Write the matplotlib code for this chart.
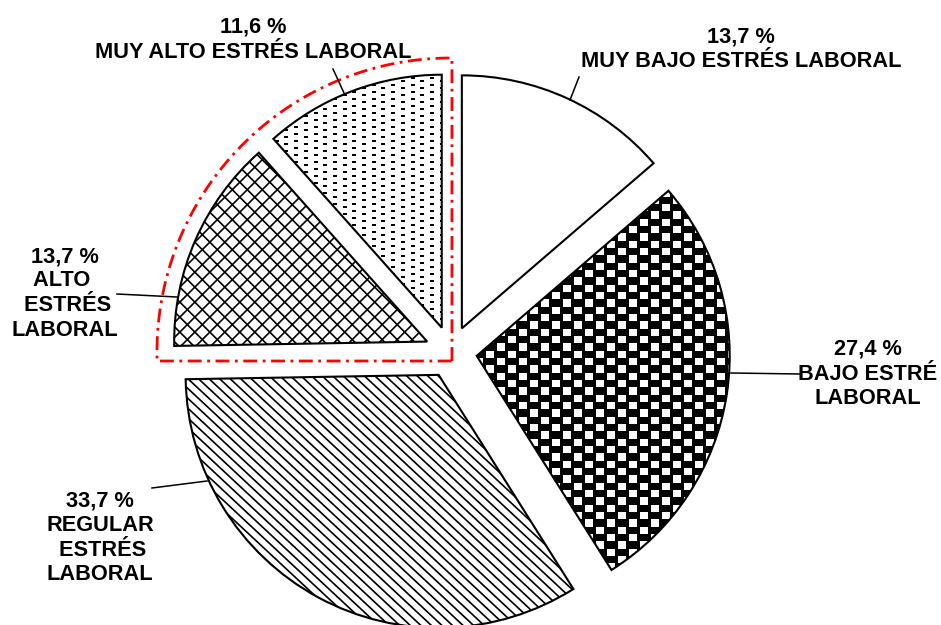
import numpy as np
import matplotlib.pyplot as plt
from matplotlib.collections import LineCollection
from matplotlib.patches import Wedge

# Niveles de estrés laboral (%)
niveles = ["MUY BAJO", "BAJO", "REGULAR", "ALTO", "MUY ALTO"]
porcentajes = [13.7, 27.4, 33.7, 13.7, 11.6]
# cómo se parte cada rótulo en renglones (debajo del porcentaje)
renglones = [
    ["MUY BAJO ESTRÉS LABORAL"],
    ["BAJO ESTRÉ", "LABORAL"],
    ["REGULAR", " ESTRÉS", "LABORAL"],
    ["ALTO ", " ESTRÉS", "LABORAL"],
    ["MUY ALTO ESTRÉS LABORAL"],
]

W, H = 941, 625
CX, CY, R = 451, H - 352, 253

fig = plt.figure(figsize=(W / 100, H / 100), dpi=100)
ax = fig.add_axes([0, 0, 1, 1])

# explode va en unidades de datos (píxeles aquí)
cunas, _ = ax.pie(porcentajes, startangle=90, counterclock=False,
                  center=(CX, CY), radius=R, explode=[26] * 5,
                  wedgeprops=dict(facecolor="white", edgecolor="none"))


def rayado(cuna, angulos, paso, lw):
    cx, cy = cuna.center
    r = cuna.r
    segs = []
    for ang in angulos:
        d = np.array([np.cos(np.radians(ang)), np.sin(np.radians(ang))])
        n = np.array([-d[1], d[0]])
        for k in np.arange(-r - paso, r + paso, paso):
            p = np.array([cx, cy]) + k * n
            segs.append([p - (r + 5) * d, p + (r + 5) * d])
    lc = LineCollection(segs, colors="black", linewidths=lw, zorder=2)
    ax.add_collection(lc)
    lc.set_clip_path(cuna)


def textura(cuna, patron):
    cx, cy = cuna.center
    r = cuna.r
    x0, x1 = int(cx - r) - 1, int(cx + r) + 2
    y0, y1 = int(cy - r) - 1, int(cy + r) + 2
    yy, xx = np.mgrid[0:y1 - y0, 0:x1 - x0]
    im = ax.imshow(patron(xx, yy), cmap="gray", vmin=0, vmax=1,
                   extent=(x0, x1, y0, y1), interpolation="nearest", zorder=2)
    im.set_clip_path(cuna)


def ladrillos(xx, yy):
    fila = (yy // 7.33).astype(int)
    fase = (xx + (fila % 2) * 11) % 22
    return np.where(fase < 7.3, 1.0, 0.0)


def guiones(xx, yy):
    col = (xx // 9.7).astype(int)
    fx = xx % 9.7
    fy = (yy + (col % 2) * 3.5) % 7
    return np.where((fx < 4) & (fy < 2), 0.0, 1.0)


textura(cunas[1], ladrillos)
rayado(cunas[2], [-43], 7.2, 1.2)
rayado(cunas[3], [45, -45], 10.6, 1.2)
textura(cunas[4], guiones)

# contornos encima de las tramas
for c in cunas:
    ax.add_patch(Wedge(c.center, c.r, c.theta1, c.theta2, fill=False,
                       edgecolor="black", linewidth=1.5, zorder=3))

# marco rojo alrededor de ALTO y MUY ALTO
t = np.radians(np.linspace(90, 180, 80))
mx = np.concatenate([[452, 452], CX + 294 * np.cos(t), [157, 452]])
my = np.concatenate([[H - 361, H - 58], CY + 294 * np.sin(t), [H - 361, H - 361]])
ax.plot(mx, my, color="red", linewidth=2, linestyle=(0, (5, 2, 1, 2)),
        zorder=4)

# líneas guía (coordenadas en píxeles desde arriba)
guias = [
    [(570, 100), (579, 77)],
    [(731, 373), (800, 374)],
    [(207, 481), (152, 488)],
    [(177, 297), (117, 294)],
    [(344, 93), (333, 69)],
]
for (xa, ya), (xb, yb) in guias:
    ax.plot([xa, xb], [H - ya, H - yb], color="black", linewidth=1.1, zorder=4)

# posición de los rótulos: centro x, línea base del primer renglón, paso
rotulos = [(741, 42, 25), (868, 355, 24.5), (100, 507, 24.3),
           (65, 262, 24.5), (253, 33, 25)]
for v, lineas, (x, y0, paso) in zip(porcentajes, renglones, rotulos):
    textos = [f"{v:.1f}".replace(".", ",") + " %"] + lineas
    for i, s in enumerate(textos):
        ax.text(x, H - (y0 + i * paso), s, ha="center", va="baseline",
                fontsize=15.7, fontweight="bold", family="Liberation Sans",
                zorder=5)

ax.set_xlim(0, W)
ax.set_ylim(0, H)
ax.set_aspect("equal")
ax.axis("off")
fig.savefig("out.png", dpi=100)
